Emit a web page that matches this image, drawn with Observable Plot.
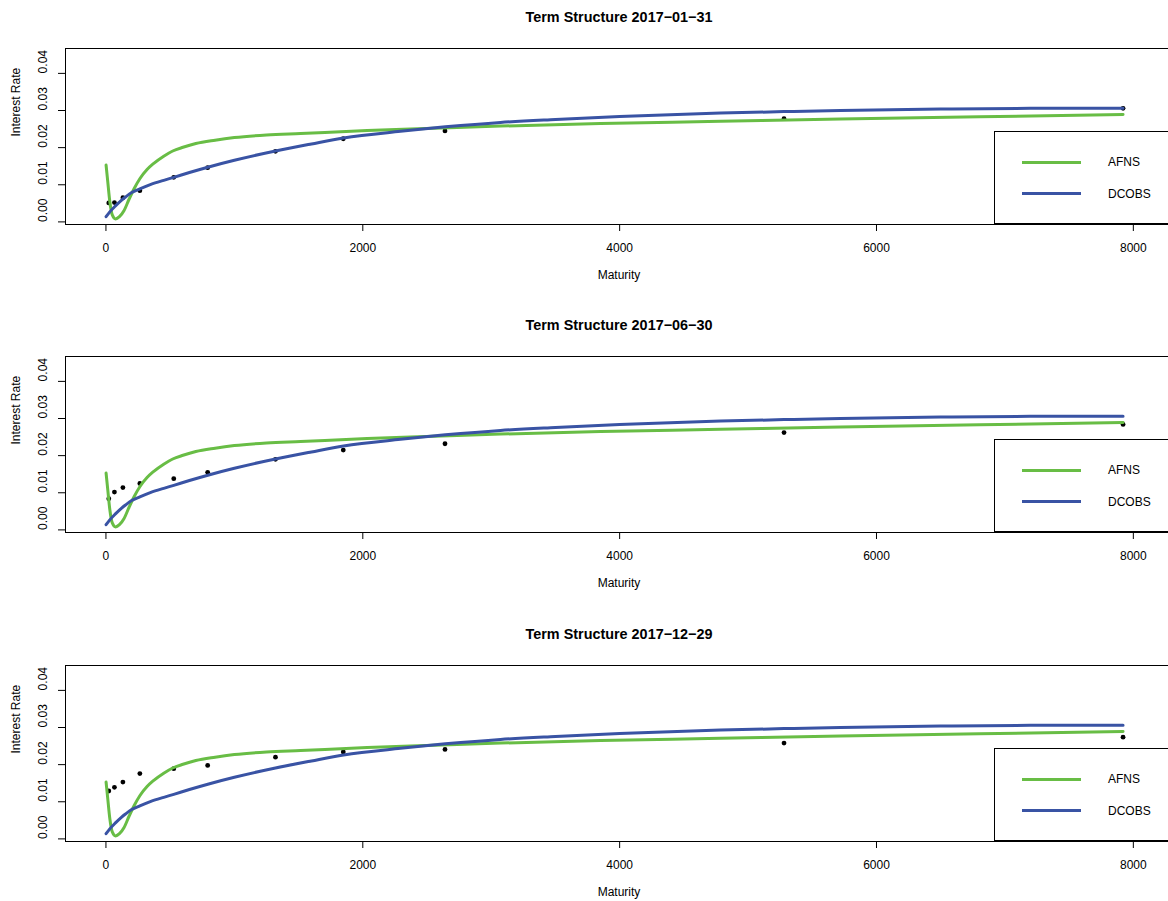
<!DOCTYPE html>
<html>
<head>
<meta charset="utf-8">
<script src="https://cdn.jsdelivr.net/npm/d3@7"></script>
<script src="https://cdn.jsdelivr.net/npm/@observablehq/plot@0.6"></script>
<style>
  html, body { margin: 0; padding: 0; background: #fff; overflow: hidden; width: 1168px; height: 901px; }
  .panel { position: absolute; left: 0; width: 1200px; height: 308px; }
  .legend { position: absolute; left: 994px; top: 131px; width: 200px; height: 93px; box-sizing: border-box;
            border: 1px solid #000; background: #fff; font-family: "Liberation Sans", Arial, sans-serif; font-size: 12px; color: #000; }
  .legend .sw { position: absolute; left: 27px; width: 59px; height: 3px; }
  .legend .lb { position: absolute; left: 113px; height: 14px; line-height: 14px; }
</style>
</head>
<body>
<div id="root"></div>
<script>
// Observed yields (maturity in business days, 264 per year)
const obsMaturity = [22, 66, 132, 264, 528, 792, 1320, 1848, 2640, 5280, 7920];
const obs20170131 = [0.0051, 0.0052, 0.0065, 0.0084, 0.0120, 0.0146, 0.0190, 0.0224, 0.0245, 0.0278, 0.0306];
const obs20170630 = [0.0084, 0.0102, 0.0114, 0.0125, 0.0138, 0.0155, 0.0190, 0.0215, 0.0232, 0.0262, 0.0284];
const obs20171229 = [0.0129, 0.0139, 0.0153, 0.0176, 0.0189, 0.0198, 0.0220, 0.0234, 0.0241, 0.0258, 0.0274];

// Fitted AFNS curve
const afnsMaturity = [1, 15, 30, 50, 75, 105, 140, 180, 220, 265, 320, 370, 450, 520, 600, 700, 850, 1000, 1250, 1515, 2034, 2550, 3072, 3851, 4785, 5719, 6800, 7920];
const afnsRate     = [0.0153, 0.0105, 0.0055, 0.0018, 0.0008, 0.0014, 0.0030, 0.0061, 0.0090, 0.0117, 0.0141, 0.0157, 0.0177, 0.0191, 0.0201, 0.0211, 0.0220, 0.0227, 0.0234, 0.0238, 0.0246, 0.0252, 0.0258, 0.0265, 0.0271, 0.0277, 0.0283, 0.0289];

// Fitted DCOBS curve
const dcobsMaturity = [1, 30, 74, 120, 152, 200, 264, 350, 450, 528, 650, 800, 1000, 1320, 1600, 1850, 2293, 2643, 3072, 3500, 4000, 4785, 5280, 5719, 6500, 7200, 7920];
const dcobsRate     = [0.0014, 0.0027, 0.0043, 0.0058, 0.0067, 0.0079, 0.0089, 0.0101, 0.0112, 0.0120, 0.0133, 0.0148, 0.0166, 0.0191, 0.0210, 0.0226, 0.0244, 0.0256, 0.0268, 0.0276, 0.0284, 0.0293, 0.0297, 0.0300, 0.0304, 0.0306, 0.0306];

const panelDates = ["2017\u221201\u221231", "2017\u221206\u221230", "2017\u221212\u221229"];
const panelObs = [obs20170131, obs20170630, obs20171229];

const xTicks = [0, 2000, 4000, 6000, 8000];
const yTicks = [0, 0.01, 0.02, 0.03, 0.04];
const xDomain = [-315, 8305];
const yDomain = [-0.0007, 0.0467];

const seriesNames = ["AFNS", "DCOBS"];
const seriesColors = ["#68bd45", "#3953a4"];

const root = document.getElementById("root");
const panelTops = [0, 308, 617];

panelDates.forEach((date, p) => {
  const obs = obsMaturity.map((m, i) => ({m, r: panelObs[p][i]}));
  const afns = afnsMaturity.map((m, i) => ({m, r: afnsRate[i]}));
  const dcobs = dcobsMaturity.map((m, i) => ({m, r: dcobsRate[i]}));

  const chart = Plot.plot({
    width: 1200, height: 308,
    marginLeft: 65, marginRight: 28, marginTop: 48, marginBottom: 84,
    style: {fontFamily: "'Liberation Sans', Arial, sans-serif", fontSize: "12px", color: "#000", background: "#fff", overflow: "visible"},
    x: {domain: xDomain},
    y: {domain: yDomain},
    marks: [
      Plot.frame({stroke: "#000", strokeWidth: 1}),
      Plot.axisX({ticks: xTicks, tickSize: 7, tickPadding: 12, tickFormat: d => String(d), label: null, fontSize: 12}),
      Plot.axisY({ticks: yTicks, tickSize: 7, tickFormat: () => "", label: null}),
      Plot.text(yTicks, {y: d => d, frameAnchor: "left", dx: -22, rotate: -90, text: d => d.toFixed(2), lineAnchor: "middle", fontSize: 12}),
      Plot.text(["Interest Rate"], {frameAnchor: "left", dx: -49, rotate: -90, text: d => d, lineAnchor: "middle", fontSize: 12}),
      Plot.text(["Maturity"], {frameAnchor: "bottom", dy: 51, text: d => d, lineAnchor: "middle", fontSize: 12}),
      Plot.text(["Term Structure " + date], {frameAnchor: "top", dy: -31, text: d => d, lineAnchor: "middle", fontSize: 14.4, fontWeight: "bold"}),
      Plot.dot(obs, {x: "m", y: "r", r: 2.4, fill: "#000", stroke: null}),
      Plot.line(afns, {x: "m", y: "r", stroke: seriesColors[0], strokeWidth: 3, curve: "monotone-x"}),
      Plot.line(dcobs, {x: "m", y: "r", stroke: seriesColors[1], strokeWidth: 3, curve: "monotone-x"})
    ]
  });

  const wrap = document.createElement("div");
  wrap.className = "panel";
  wrap.style.top = panelTops[p] + "px";
  wrap.appendChild(chart);

  const legend = document.createElement("div");
  legend.className = "legend";
  seriesNames.forEach((name, i) => {
    const cy = 30.3 + i * 31.4;
    const sw = document.createElement("div");
    sw.className = "sw";
    sw.style.top = (cy - 1.5) + "px";
    sw.style.background = seriesColors[i];
    const lb = document.createElement("div");
    lb.className = "lb";
    lb.style.top = (cy - 7) + "px";
    lb.textContent = name;
    legend.appendChild(sw);
    legend.appendChild(lb);
  });
  wrap.appendChild(legend);
  root.appendChild(wrap);
});
</script>
</body>
</html>
